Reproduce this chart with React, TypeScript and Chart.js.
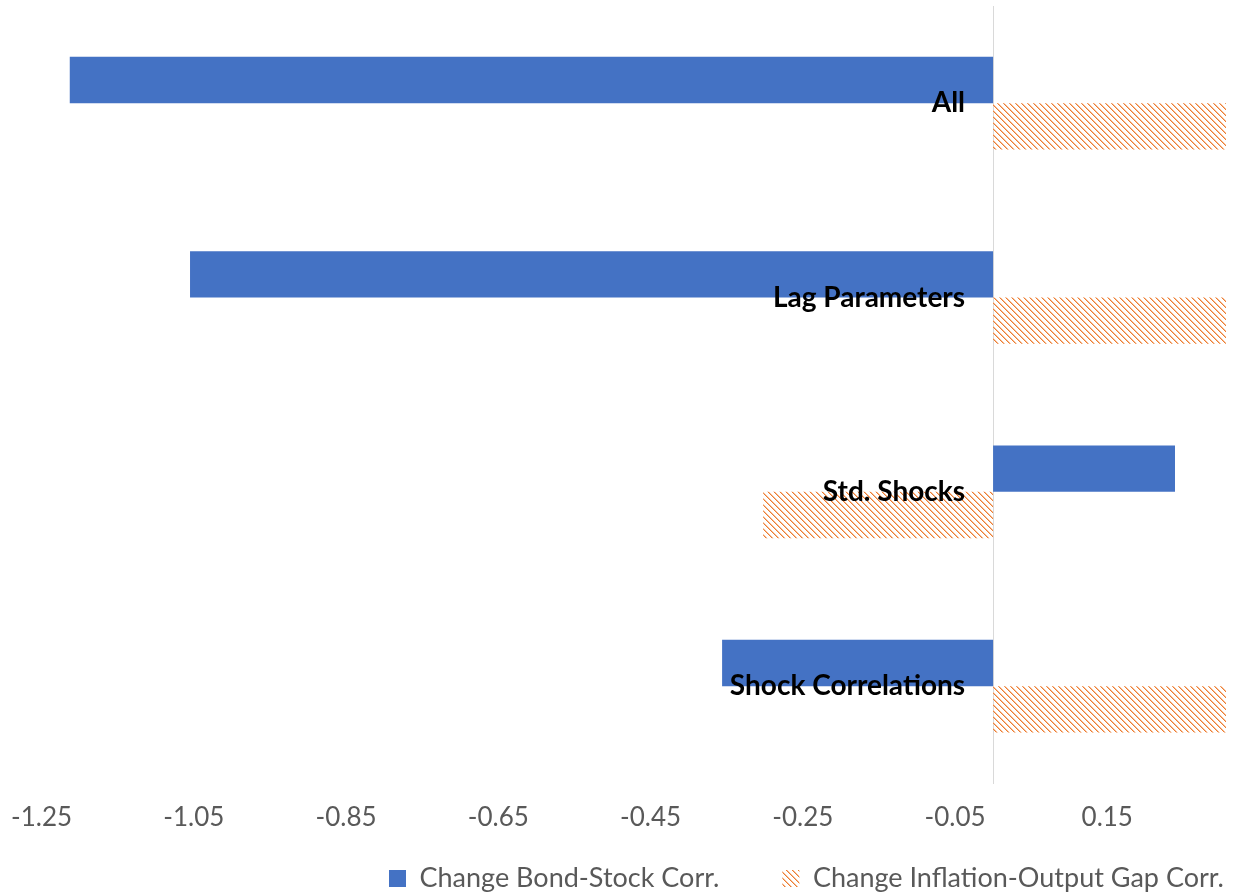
import React, { useEffect, useRef } from 'react';
import { Chart, registerables } from 'chart.js';

Chart.register(...registerables);

const CATEGORIES = ['All', 'Lag Parameters', 'Std. Shocks', 'Shock Correlations'];
const BOND_STOCK = [-1.213, -1.055, 0.239, -0.356];
const INFLATION_OUTPUT = [0.33, 0.33, -0.302, 0.33];
const SERIES_LABELS = ['Change Bond-Stock Corr.', 'Change Inflation-Output Gap Corr.'];
const X_TICKS = [-1.25, -1.05, -0.85, -0.65, -0.45, -0.25, -0.05, 0.15];
const X_MIN = -1.25;
const X_MAX = 0.306;

const BLUE = '#4472C4';
const ORANGE = '#ED7D31';
const ORANGE_LIGHT = '#F6BE98';
const LEGEND_X = 389;
const LEGEND_CY = 878.5;
const LEGEND_FONT = 27;

function makeHatch(): CanvasPattern | string {
  const c = document.createElement('canvas');
  c.width = 6;
  c.height = 6;
  const g = c.getContext('2d');
  if (!g) return ORANGE;
  for (let i = 0; i < 6; i++) {
    g.fillStyle = ORANGE;
    g.fillRect(i, i, 1, 1);
    g.fillStyle = ORANGE_LIGHT;
    g.fillRect((i + 1) % 6, i, 1, 1);
  }
  return g.createPattern(c, 'repeat') || ORANGE;
}

const categoryLabels = {
  id: 'categoryLabels',
  afterDatasetsDraw(chart: any) {
    const { ctx, scales } = chart;
    const x = scales.x;
    const y = scales.y;
    ctx.save();
    ctx.font = 'bold 28px Lato';
    ctx.fillStyle = '#000000';
    ctx.textAlign = 'right';
    ctx.textBaseline = 'middle';
    const x0 = x.getPixelForValue(0) - 28;
    CATEGORIES.forEach((c, i) => {
      ctx.fillText(c, x0, y.getPixelForValue(i));
    });
    ctx.restore();
  },
};

const legendShift = {
  id: 'legendShift',
  afterLayout(chart: any) {
    const lg = chart.legend;
    if (!lg) return;
    const p = lg.options.labels.padding;
    const h = lg.height;
    lg.left = LEGEND_X - p;
    lg.right = chart.width + 600;
    lg.top = LEGEND_CY - p - LEGEND_FONT / 2;
    lg.bottom = lg.top + h;
  },
};

export default function App() {
  const ref = useRef<HTMLCanvasElement | null>(null);

  useEffect(() => {
    document.body.style.margin = '0';
    if (!ref.current) return;
    Chart.defaults.font.family = 'Lato';
    const hatch = makeHatch();
    const chart = new Chart(ref.current, {
      type: 'bar',
      data: {
        labels: CATEGORIES,
        datasets: [
          {
            label: SERIES_LABELS[0],
            data: BOND_STOCK,
            backgroundColor: BLUE,
            borderWidth: 0,
            categoryPercentage: 0.477,
            barPercentage: 1,
          },
          {
            label: SERIES_LABELS[1],
            data: INFLATION_OUTPUT,
            backgroundColor: hatch as any,
            borderWidth: 0,
            categoryPercentage: 0.477,
            barPercentage: 1,
          },
        ],
      },
      options: {
        indexAxis: 'y',
        responsive: false,
        animation: false,
        layout: { padding: { left: 41.6, right: 12, top: 6, bottom: -56.5 } },
        scales: {
          x: {
            type: 'linear',
            min: X_MIN,
            max: X_MAX,
            grid: { display: false, drawTicks: false },
            border: { display: false },
            ticks: {
              color: '#595959',
              font: { size: 26 },
              padding: 19,
              autoSkip: false,
              maxRotation: 0,
              callback: (v: any) => Number(v).toFixed(2),
            },
            afterBuildTicks: (s: any) => {
              s.ticks = X_TICKS.map((v) => ({ value: v }));
            },
            afterFit: (s: any) => {
              s.paddingLeft = 0;
              s.paddingRight = 0;
            },
          },
          y: {
            type: 'category',
            position: { x: 0 } as any,
            grid: { display: false },
            ticks: { display: false },
            border: { display: true, color: '#D9D9D9', width: 1 },
          },
        },
        plugins: {
          legend: {
            position: 'bottom',
            align: 'start',
            labels: {
              boxWidth: 17,
              boxHeight: 17,
              padding: 63,
              color: '#595959',
              font: { size: LEGEND_FONT },
            },
          },
          tooltip: { enabled: false },
        },
      },
      plugins: [categoryLabels, legendShift],
    });
    return () => chart.destroy();
  }, []);

  return (
    <div style={{ width: 1238, height: 896 }}>
      <canvas ref={ref} width={1238} height={896} style={{ display: 'block' }} />
    </div>
  );
}
